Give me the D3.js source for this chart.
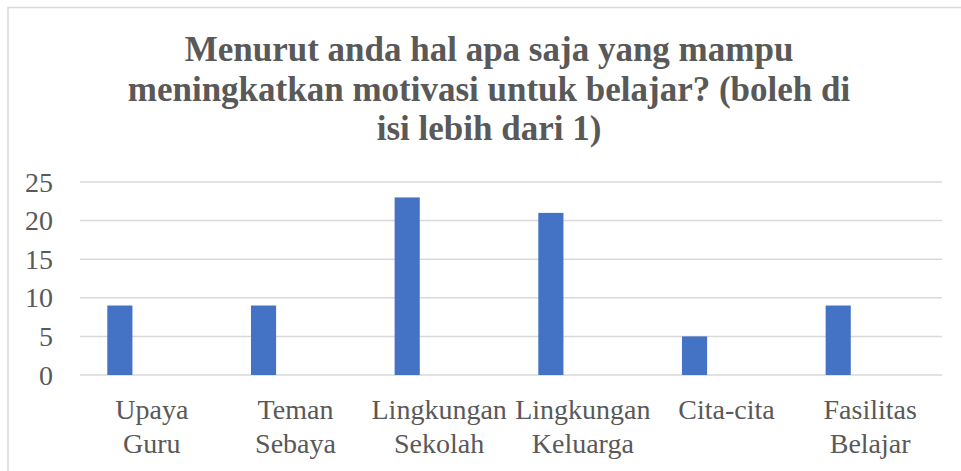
<!DOCTYPE html>
<html>
<head>
<meta charset="utf-8">
<script src="https://cdn.jsdelivr.net/npm/d3@7"></script>
<style>
  html, body { margin: 0; padding: 0; background: #fff; }
  svg { display: block; }
  svg text { font-family: "Liberation Serif", "Times New Roman", Times, "DejaVu Serif", serif; }
</style>
</head>
<body>
<script>
'use strict';

// chart data
const categories = [
  ["Upaya", "Guru"],
  ["Teman", "Sebaya"],
  ["Lingkungan", "Sekolah"],
  ["Lingkungan", "Keluarga"],
  ["Cita-cita"],
  ["Fasilitas", "Belajar"]
];
const counts = [9, 9, 23, 21, 5, 9];
const yTicks = [0, 5, 10, 15, 20, 25];
const titleLines = [
  "Menurut anda hal apa saja yang mampu",
  "meningkatkan motivasi untuk belajar? (boleh di",
  "isi lebih dari 1)"
];

const width = 961, height = 471;
const textColor = "#595959";
const gridColor = "#d9d9d9";

const svg = d3.select('body')
  .append('svg')
  .attr('width', width)
  .attr('height', height);

// chart area border (cropped at right and bottom)
svg.append('rect')
  .attr('x', 8)
  .attr('y', 7.5)
  .attr('width', 1000)
  .attr('height', 1000)
  .attr('fill', '#fff')
  .attr('stroke', gridColor)
  .attr('stroke-width', 1.5);

// title
svg.append('text')
  .attr('text-anchor', 'middle')
  .style('font-weight', 'bold')
  .style('font-size', '35px')
  .attr('fill', textColor)
  .selectAll('tspan')
  .data(titleLines)
  .enter()
  .append('tspan')
    .attr('x', 489)
    .attr('y', (d, i) => 61 + i * 39.5)
    .text(d => d);

// scales
const keys = categories.map(c => c.join(' '));
const x = d3.scaleBand()
  .domain(keys)
  .range([80, 942])
  .padding(0);

const y = d3.scaleLinear()
  .domain([0, 25])
  .range([375, 182]);

// gridlines
svg.append('g')
  .selectAll('line')
  .data(yTicks)
  .enter()
  .append('line')
    .attr('x1', 80)
    .attr('x2', 942)
    .attr('y1', d => y(d))
    .attr('y2', d => y(d))
    .attr('stroke', gridColor)
    .attr('stroke-width', 1.5);

// y tick labels
svg.append('g')
  .selectAll('text')
  .data(yTicks)
  .enter()
  .append('text')
    .attr('x', 53)
    .attr('y', d => y(d))
    .attr('dy', '0.34em')
    .attr('text-anchor', 'end')
    .style('font-size', '28px')
    .attr('fill', textColor)
    .text(d => d);

// bars sit left of the category centre (as in the original clustered layout)
const barOffset = x.bandwidth() * 0.19;
const barWidth = x.bandwidth() * 0.175;

svg.append('g')
  .selectAll('rect')
  .data(counts)
  .enter()
  .append('rect')
    .attr('x', (d, i) => x(keys[i]) + barOffset)
    .attr('y', d => y(d))
    .attr('width', barWidth)
    .attr('height', d => y(0) - y(d))
    .attr('fill', '#4472c4');

// x category labels
const xLabels = svg.append('g')
  .selectAll('text')
  .data(categories)
  .enter()
  .append('text')
    .attr('text-anchor', 'middle')
    .style('font-size', '28px')
    .attr('fill', textColor);

xLabels.selectAll('tspan')
  .data((d, i) => d.map(t => ({ t: t, k: keys[i] })))
  .enter()
  .append('tspan')
    .attr('x', d => x(d.k) + x.bandwidth() / 2)
    .attr('y', (d, j) => 419 + j * 34)
    .text(d => d.t);
</script>
</body>
</html>
